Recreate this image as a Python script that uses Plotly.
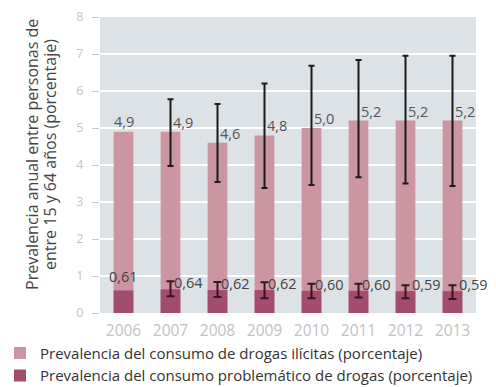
import plotly.graph_objects as go

years = [2006, 2007, 2008, 2009, 2010, 2011, 2012, 2013]
illicit = [4.9, 4.9, 4.6, 4.8, 5.0, 5.2, 5.2, 5.2]
illicit_hi = [None, 5.78, 5.65, 6.2, 6.68, 6.84, 6.95, 6.95]
illicit_lo = [None, 3.97, 3.54, 3.38, 3.46, 3.67, 3.5, 3.43]
problem = [0.61, 0.64, 0.62, 0.62, 0.60, 0.60, 0.59, 0.59]
problem_hi = [None, 0.86, 0.84, 0.83, 0.79, 0.79, 0.75, 0.75]
problem_lo = [None, 0.45, 0.43, 0.40, 0.40, 0.42, 0.40, 0.38]
illicit_labels = ["4,9", "4,9", "4,6", "4,8", "5,0", "5,2", "5,2", "5,2"]
problem_labels = ["0,61", "0,64", "0,62", "0,62", "0,60", "0,60", "0,59", "0,59"]
year_labels = ["2006", "2007", "2008", "2009", "2010", "2011", "2012", "2013"]
yticks = [0, 1, 2, 3, 4, 5, 6, 7, 8]
title_lines = ["Prevalencia anual entre personas de", "entre 15 y 64 años (porcentaje)"]

LIGHT = "#cc95a2"
DARK = "#a34d6e"
FONT = "Open Sans"


def err_subset(vals, hi, lo):
    xs, ys, up, dn = [], [], [], []
    for x, v, h, l in zip(years, vals, hi, lo):
        if h is not None:
            xs.append(x)
            ys.append(v)
            up.append(h - v)
            dn.append(v - l)
    return xs, ys, up, dn


fig = go.Figure()
fig.add_trace(go.Bar(
    x=years, y=illicit, name="Prevalencia del consumo de drogas ilícitas (porcentaje)",
    marker=dict(color=LIGHT, line=dict(width=0)), width=0.42,
))
fig.add_trace(go.Bar(
    x=years, y=problem, name="Prevalencia del consumo problemático de drogas (porcentaje)",
    marker=dict(color=DARK, line=dict(width=0)), width=0.42,
))

ex, ey, eu, ed = err_subset(illicit, illicit_hi, illicit_lo)
fig.add_trace(go.Bar(
    x=ex, y=ey, showlegend=False, hoverinfo="skip", width=0.42,
    marker=dict(color="rgba(0,0,0,0)", line=dict(width=0)),
    error_y=dict(type="data", symmetric=False, array=eu, arrayminus=ed,
                 color="#1a1a1a", thickness=2, width=3),
))
ex, ey, eu, ed = err_subset(problem, problem_hi, problem_lo)
fig.add_trace(go.Bar(
    x=ex, y=ey, showlegend=False, hoverinfo="skip", width=0.42,
    marker=dict(color="rgba(0,0,0,0)", line=dict(width=0)),
    error_y=dict(type="data", symmetric=False, array=eu, arrayminus=ed,
                 color="#3a1422", thickness=2, width=4),
))

for i, (yr, v, lab) in enumerate(zip(years, illicit, illicit_labels)):
    if illicit_hi[i] is None:
        fig.add_annotation(x=yr, y=v, text=lab, showarrow=False, xanchor="center",
                           yanchor="bottom", yshift=-1,
                           font=dict(family=FONT, size=14.5, color="#555555"))
    else:
        fig.add_annotation(x=yr, y=v, text=lab, showarrow=False, xanchor="left",
                           yanchor="bottom", xshift=0, yshift=-2,
                           font=dict(family=FONT, size=14.5, color="#555555"))

for i, (yr, v, lab) in enumerate(zip(years, problem, problem_labels)):
    if problem_hi[i] is None:
        fig.add_annotation(x=yr, y=v, text=lab, showarrow=False, xanchor="center",
                           yanchor="bottom", yshift=2,
                           font=dict(family=FONT, size=14.5, color="#444444"))
    else:
        fig.add_annotation(x=yr, y=v, text=lab, showarrow=False, xanchor="left",
                           yanchor="bottom", xshift=4 if v < 0.6 else 1, yshift=-5,
                           font=dict(family=FONT, size=14.5, color="#444444"))

fig.add_annotation(xref="paper", yref="paper", x=(32 - 100) / 376, y=0.534,
                   text=title_lines[0], showarrow=False, textangle=-90,
                   xanchor="center", yanchor="middle",
                   font=dict(family=FONT, size=16, color="#444444"))
fig.add_annotation(xref="paper", yref="paper", x=(50 - 100) / 376, y=0.534,
                   text=title_lines[1], showarrow=False, textangle=-90,
                   xanchor="center", yanchor="middle",
                   font=dict(family=FONT, size=16, color="#444444"))

fig.update_layout(
    width=496, height=387,
    margin=dict(l=100, r=20, t=17, b=74, autoexpand=False),
    barmode="overlay",
    paper_bgcolor="white",
    plot_bgcolor="#dde2e7",
    font=dict(family=FONT, size=12, color="#444444"),
    showlegend=True,
    legend=dict(xref="container", yref="container", x=0.0, y=0.13,
                xanchor="left", yanchor="top", orientation="v",
                font=dict(family=FONT, size=15, color="#333333"),
                itemwidth=30, tracegroupgap=0, bgcolor="rgba(0,0,0,0)"),
    xaxis=dict(type="linear", range=[2005.5, 2013.5], tickvals=years, ticktext=year_labels,
               showgrid=False, ticks="", ticklabelstandoff=6,
               tickfont=dict(family=FONT, size=15.5, color="#c2c2c2"),
               showline=False, zeroline=False),
    yaxis=dict(range=[0, 8], tickvals=yticks, ticktext=[str(t) for t in yticks],
               showgrid=True, gridcolor="white", gridwidth=2, zeroline=False,
               ticks="outside", ticklen=7, tickcolor="#c8c8c8", tickwidth=1,
               ticklabelstandoff=6,
               tickfont=dict(family=FONT, size=12.5, color="#c4c4c4"), showline=False),
)

fig.write_html("out.html")
